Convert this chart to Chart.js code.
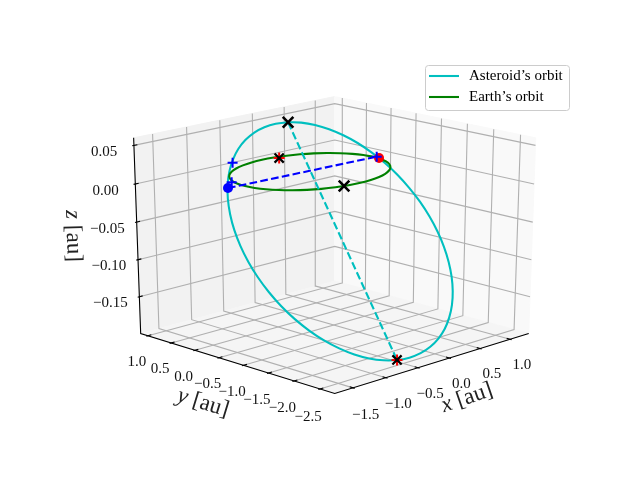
<!DOCTYPE html>
<html><head><meta charset="utf-8">
<style>html,body{margin:0;padding:0;background:#fff}canvas{display:block}</style>
<script src="https://cdn.jsdelivr.net/npm/chart.js@4"></script></head>
<body><canvas id="c" width="640" height="480"></canvas>
<script>
const xLim=[-1.712,1.256], yLim=[-2.701,1.080], zLim=[-0.195,0.0545];
const xTicks=[-1.5,-1,-0.5,0,0.5,1], yTicks=[-2.5,-2,-1.5,-1,-0.5,0,0.5,1], zTicks=[-0.15,-0.10,-0.05,0,0.05];
const xTickLabels=['−1.5','−1.0','−0.5','0.0','0.5','1.0'];
const yTickLabels=['−2.5','−2.0','−1.5','−1.0','−0.5','0.0','0.5','1.0'];
const zTickLabels=['−0.15','−0.10','−0.05','0.00','0.05'];
const seriesNames=["Asteroid’s orbit","Earth’s orbit"];
const earthX=[1.012,.997,.952,.878,.778,.655,.512,.354,.186,.012,-.162,-.33,-.488,-.631,-.754,-.854,-.928,-.973,-.988,-.973,-.928,-.854,-.754,-.631,-.488,-.33,-.162,.012,.186,.354,.512,.655,.778,.878,.952,.997,1.012];
const earthY=[-.015,.159,.327,.485,.628,.751,.851,.925,.97,.985,.97,.925,.851,.751,.628,.485,.327,.159,-.015,-.189,-.357,-.515,-.658,-.781,-.881,-.955,-1,-1.015,-1,-.955,-.881,-.781,-.658,-.515,-.357,-.189,-.015];
const earthZ=[0,0,0,0,0,0,0,0,0,0,0,0,0,0,0,0,0,0,0,0,0,0,0,0,0,0,0,0,0,0,0,0,0,0,0,0,0];
const astX=[.203,.366,.519,.659,.783,.891,.979,1.047,1.093,1.116,1.117,1.094,1.049,.982,.894,.787,.662,.523,.370,.208,.038,-.137,-.313,-.488,-.658,-.821,-.974,-1.114,-1.238,-1.346,-1.434,-1.502,-1.548,-1.571,-1.572,-1.549,-1.504,-1.437,-1.349,-1.242,-1.117,-.978,-.825,-.663,-.493,-.318,-.142,.033,.203];
const astY=[.687,.629,.544,.434,.300,.145,-.029,-.218,-.420,-.630,-.846,-1.064,-1.279,-1.489,-1.689,-1.877,-2.049,-2.201,-2.332,-2.440,-2.521,-2.576,-2.603,-2.601,-2.571,-2.513,-2.428,-2.318,-2.184,-2.029,-1.855,-1.666,-1.464,-1.254,-1.038,-.820,-.605,-.395,-.195,-.007,.165,.317,.448,.556,.637,.692,.719,.717,.687];
const astZ=[.0510,.0484,.0437,.0371,.0286,.0185,.0068,-.0061,-.0201,-.0350,-.0504,-.0662,-.0820,-.0977,-.1128,-.1272,-.1407,-.1528,-.1636,-.1728,-.1802,-.1857,-.1892,-.1907,-.1901,-.1874,-.1827,-.1761,-.1676,-.1575,-.1459,-.1330,-.1189,-.1041,-.0886,-.0728,-.0570,-.0414,-.0262,-.0118,.0017,.0138,.0246,.0338,.0411,.0467,.0502,.0516,.0510];
const apsisX=[.203,-.658], apsisY=[.687,-2.571], apsisZ=[.051,-.190];
const earthApsisX=[.2125,-.2206], earthApsisY=[.892,-.985], earthApsisZ=[0,0];
const nodeDotX=[-1.181,1.018], nodeDotY=[.071,-.134], nodeDotZ=[0,0];
const plusX=[-.958,-.969,1.046], plusY=[.275,.286,-.052], plusZ=[.0254,0,0];

const el=20*Math.PI/180, az=-135*Math.PI/180, dist=10;
const n=[Math.cos(az)*Math.cos(el),Math.sin(az)*Math.cos(el),Math.sin(el)];
const u=[-Math.sin(az),Math.cos(az),0];
const v=[n[1]*u[2]-n[2]*u[1],n[2]*u[0]-n[0]*u[2],n[0]*u[1]-n[1]*u[0]];
const dot=(a,b)=>a[0]*b[0]+a[1]*b[1]+a[2]*b[2];
function pq(q){const d=[q[0]-dist*n[0],q[1]-dist*n[1],q[2]-dist*n[2]];const w=-dot(d,n);return {x:dot(d,u)/w,y:dot(d,v)/w};}
const toQ=(x,y,z)=>[(x-xLim[0])/(xLim[1]-xLim[0])-.5,(y-yLim[0])/(yLim[1]-yLim[0])-.5,(z-zLim[0])/(zLim[1]-zLim[0])-.5];
const P=(x,y,z)=>pq(toQ(x,y,z));
const E=.5+1/48, T1=.1/12, T2=.2/12;
const ds=[];
function add(data,o){ds.push(Object.assign({data,showLine:true,pointRadius:0,borderWidth:1.1,tension:0,fill:false,clip:false},o));}
const pane=(pts,c)=>add(pts.map(pq),{borderColor:c,backgroundColor:c,fill:'shape',borderWidth:1});
pane([[-E,E,-E],[E,E,-E],[E,E,E],[-E,E,E],[-E,E,-E]],'#f2f2f2');
pane([[E,E,-E],[E,-E,-E],[E,-E,E],[E,E,E],[E,E,-E]],'#f9f9f9');
pane([[-E,-E,-E],[E,-E,-E],[E,E,-E],[-E,E,-E],[-E,-E,-E]],'#f5f5f5');
const gc='#b0b0b0';
xTicks.forEach(t=>{const q=toQ(t,0,0)[0];add([[q,-E,-E],[q,E,-E],[q,E,E]].map(pq),{borderColor:gc});});
yTicks.forEach(t=>{const q=toQ(0,t,0)[1];add([[-E,q,-E],[E,q,-E],[E,q,E]].map(pq),{borderColor:gc});});
zTicks.forEach(t=>{const q=toQ(0,0,t)[2];add([[-E,E,q],[E,E,q],[E,-E,q]].map(pq),{borderColor:gc});});
add([[-E,E,E],[-E,E,-E],[-E,-E,-E],[E,-E,-E]].map(pq),{borderColor:'#000'});
xTicks.forEach(t=>{const q=toQ(t,0,0)[0];add([[q,-E+T2,-E],[q,-E-T1,-E]].map(pq),{borderColor:'#000'});});
yTicks.forEach(t=>{const q=toQ(0,t,0)[1];add([[-E+T2,q,-E],[-E-T1,q,-E]].map(pq),{borderColor:'#000'});});
zTicks.forEach(t=>{const q=toQ(0,0,t)[2];add([[-E+T2,E,q],[-E-T1,E,q]].map(pq),{borderColor:'#000'});});
const line3=(X,Y,Z)=>X.map((x,i)=>P(x,Y[i],Z[i]));
add(line3(astX,astY,astZ),{borderColor:'#00bfbf',borderWidth:2.08,tension:.4,label:seriesNames[0]});
add(line3(earthX,earthY,earthZ),{borderColor:'#008000',borderWidth:2.08,tension:.4,label:seriesNames[1]});
add(line3(apsisX,apsisY,apsisZ),{borderColor:'#00bfbf',borderWidth:2.08,borderDash:[7.7,3.3]});
add(line3([nodeDotX[0],plusX[2]],[nodeDotY[0],plusY[2]],[nodeDotZ[0],plusZ[2]]),{borderColor:'#0000ff',borderWidth:2.08,borderDash:[7.7,3.3]});
const mk=(pts,style,col,r,w)=>ds.push({data:pts,showLine:false,pointStyle:style,pointRadius:r,pointBorderColor:col,pointBackgroundColor:col,pointBorderWidth:w,clip:false});
const aps=line3(apsisX,apsisY,apsisZ), eaps=line3(earthApsisX,earthApsisY,earthApsisZ), nodes=line3(nodeDotX,nodeDotY,nodeDotZ);
mk([nodes[0]],'circle','#0000ff',5,0);
mk([nodes[1]],'circle','#ff0000',5,0);
mk(line3(plusX,plusY,plusZ),'cross','#0000ff',5,2);
mk([aps[1],eaps[0]],'cross','#ff0000',5.5,2);
mk([aps[0],eaps[1]],'crossRot','#000',7.5,2.6);
mk([aps[1],eaps[0]],'crossRot','#000',6.5,2.2);
ds.forEach((d,i)=>d.order=-i);

const SERIF='"Liberation Serif",serif';
const textPlugin={id:'text',afterDraw(ch){
 const c=ch.ctx,sx=ch.scales.x,sy=ch.scales.y;
 const px=p=>[sx.getPixelForValue(p.x),sy.getPixelForValue(p.y)];
 c.save();c.fillStyle='#111';c.font='15px '+SERIF;c.textAlign='center';c.textBaseline='middle';
 xTicks.forEach((t,i)=>{const q=toQ(t,0,0)[0];const [a,b]=px(pq([q,-E-.063,-E-.12]));c.fillText(xTickLabels[i],a,b);});
 yTicks.forEach((t,i)=>{const q=toQ(0,t,0)[1];const [a,b]=px(pq([-E-.06,q,-E-.125]));c.fillText(yTickLabels[i],a,b);});
 zTicks.forEach((t,i)=>{const q=toQ(0,0,t)[2];const [a,b]=px(pq([-E-.078,E+.078,q-.035]));c.fillText(zTickLabels[i],a,b);});
 c.fillStyle='#222';
 const title=(letter,cx,cy,ang)=>{c.save();c.translate(cx,cy);c.rotate(ang*Math.PI/180);c.textAlign='left';
  c.font='italic 23px '+SERIF;const w1=c.measureText(letter).width;c.font='23px '+SERIF;const rest=' [au]';const w2=c.measureText(rest).width;
  c.font='italic 23px '+SERIF;c.fillText(letter,-(w1+w2)/2,0);c.font='23px '+SERIF;c.fillText(rest,-(w1+w2)/2+w1,0);c.restore();};
 title('x',467,398,-19);title('y',203,403,17);title('z',73,236,88);
 c.beginPath();c.roundRect(425.5,65.5,144,45,3);c.fillStyle='rgba(255,255,255,.8)';c.fill();c.strokeStyle='#ccc';c.lineWidth=1;c.stroke();
 const cols=['#00bfbf','#008000'],ys=[76,97];
 seriesNames.forEach((s,i)=>{c.strokeStyle=cols[i];c.lineWidth=2.08;c.beginPath();c.moveTo(429,ys[i]);c.lineTo(459,ys[i]);c.stroke();
  c.fillStyle='#000';c.font='15px '+SERIF;c.textAlign='left';c.textBaseline='middle';c.fillText(s,469,ys[i]);});
 c.restore();
}};
new Chart(document.getElementById('c'),{type:'scatter',data:{datasets:ds},plugins:[textPlugin],options:{
 responsive:false,animation:false,devicePixelRatio:1,
 layout:{padding:0,autoPadding:false},
 plugins:{legend:{display:false},tooltip:{enabled:false}},
 scales:{x:{type:'linear',display:false,min:-.12484,max:.11387},y:{type:'linear',display:false,min:-.12143,max:.11883}}
}});
</script></body></html>
